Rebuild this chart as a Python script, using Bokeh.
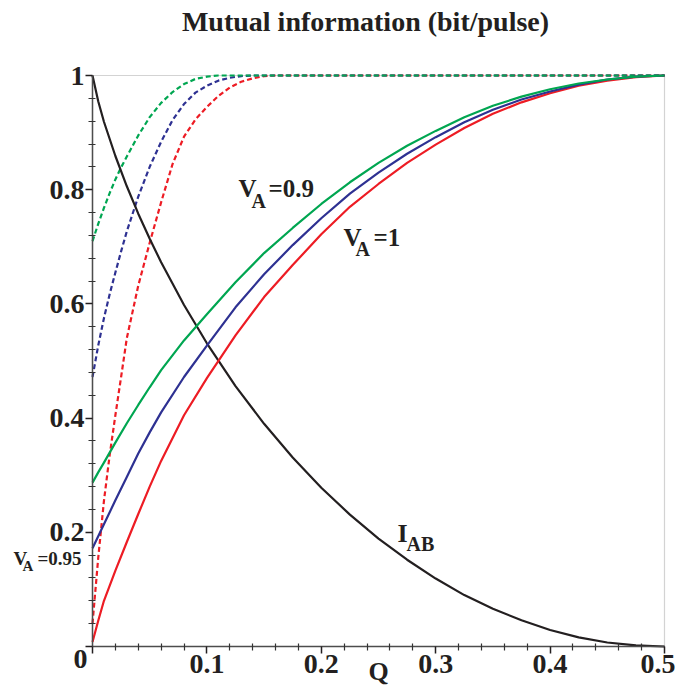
from bokeh.plotting import figure
from bokeh.models import Range1d, Label, FixedTicker, BoxAnnotation
from bokeh.embed import file_html
from bokeh.resources import INLINE

# ---------------- data ----------------
q_solid = [0, 0.005, 0.01, 0.02, 0.03, 0.04, 0.05, 0.06, 0.08, 0.1, 0.125, 0.15, 0.175,
           0.2, 0.225, 0.25, 0.275, 0.3, 0.325, 0.35, 0.375, 0.4, 0.425, 0.45, 0.475, 0.5]
i_ab = [1.0, 0.955, 0.919, 0.859, 0.806, 0.758, 0.714, 0.673, 0.598, 0.531, 0.456, 0.390, 0.331,
        0.278, 0.231, 0.189, 0.152, 0.119, 0.090, 0.066, 0.046, 0.029, 0.016, 0.007, 0.002, 0.0]
red_solid = [0.008, 0.045, 0.080, 0.133, 0.183, 0.232, 0.280, 0.325, 0.405, 0.470, 0.545, 0.612, 0.668,
             0.722, 0.770, 0.810, 0.847, 0.879, 0.908, 0.933, 0.953, 0.969, 0.982, 0.991, 0.997, 1.0]
blue_solid = [0.172, 0.193, 0.214, 0.256, 0.297, 0.338, 0.375, 0.410, 0.472, 0.527, 0.594, 0.652, 0.703,
              0.750, 0.793, 0.830, 0.863, 0.892, 0.918, 0.940, 0.958, 0.972, 0.984, 0.993, 0.998, 1.0]
green_solid = [0.287, 0.305, 0.322, 0.357, 0.391, 0.423, 0.454, 0.484, 0.536, 0.582, 0.638, 0.689, 0.733,
               0.775, 0.813, 0.847, 0.877, 0.903, 0.927, 0.947, 0.963, 0.976, 0.986, 0.993, 0.998, 1.0]

q_dash = [0, 0.005, 0.01, 0.015, 0.02, 0.025, 0.03, 0.04, 0.05, 0.06, 0.07, 0.08, 0.09, 0.1,
          0.11, 0.12, 0.13, 0.14, 0.15, 0.16, 0.2, 0.3, 0.4, 0.5]
red_dash = [0.040, 0.155, 0.255, 0.335, 0.405, 0.472, 0.540, 0.632, 0.707, 0.778, 0.845, 0.893, 0.923, 0.945,
            0.964, 0.979, 0.989, 0.995, 0.999, 1.0, 1.0, 1.0, 1.0, 1.0]
blue_dash = [0.472, 0.527, 0.575, 0.617, 0.655, 0.692, 0.727, 0.788, 0.840, 0.884, 0.922, 0.950, 0.970, 0.982,
             0.991, 0.996, 0.999, 1.0, 1.0, 1.0, 1.0, 1.0, 1.0, 1.0]
green_dash = [0.710, 0.740, 0.768, 0.794, 0.818, 0.839, 0.858, 0.895, 0.927, 0.952, 0.971, 0.985, 0.994, 0.998,
              1.0, 1.0, 1.0, 1.0, 1.0, 1.0, 1.0, 1.0, 1.0, 1.0]

x_ticks = [0, 0.1, 0.2, 0.3, 0.4, 0.5]
x_tick_labels = ["", "0.1", "0.2", "0.3", "0.4", "0.5"]
x_minor = [0.02, 0.04, 0.06, 0.08, 0.12, 0.14, 0.16, 0.18, 0.22, 0.24, 0.26, 0.28,
           0.32, 0.34, 0.36, 0.38, 0.42, 0.44, 0.46, 0.48]
y_ticks = [0, 0.2, 0.4, 0.6, 0.8, 1]
y_tick_labels = ["", "0.2", "0.4", "0.6", "0.8", "1"]
y_minor = [0.04, 0.08, 0.12, 0.16, 0.24, 0.28, 0.32, 0.36, 0.44, 0.48, 0.52, 0.56,
           0.64, 0.68, 0.72, 0.76, 0.84, 0.88, 0.92, 0.96]

# ---------------- styling ----------------
FONT = "Liberation Serif"
GREEN = "#00a651"
BLUE = "#2e3192"
RED = "#ed1c24"
BLACK = "#231f20"

W, H = 675, 687
# pixel position of the plotted area (Q: 0..0.5, value: 0..1)
PX_LEFT, PX_RIGHT, PX_TOP, PX_BOTTOM = 92, 664, 75, 646
SX = (PX_RIGHT - PX_LEFT) / 0.5
SY = (PX_BOTTOM - PX_TOP) / 1.0

p = figure(width=W, height=H,
           x_range=Range1d(-PX_LEFT / SX, (W - PX_LEFT) / SX),
           y_range=Range1d(-(H - PX_BOTTOM) / SY, PX_BOTTOM / SY),
           output_backend="svg", toolbar_location=None,
           min_border_left=0, min_border_right=0, min_border_top=0, min_border_bottom=0)
p.title.text = ""
p.grid.visible = False
p.outline_line_color = None
p.background_fill_color = "white"
p.border_fill_color = "white"

# plot box (top / right edges)
p.add_layout(BoxAnnotation(left=0, right=0.5, bottom=0, top=1, fill_color=None,
                           line_color="#6d6d6d", line_width=1.2, level="underlay"))

for ax, ticks, labels, minor, bounds in ((p.xaxis[0], x_ticks, x_tick_labels, x_minor, (0, 0.5)),
                                         (p.yaxis[0], y_ticks, y_tick_labels, y_minor, (0, 1))):
    ax.fixed_location = 0
    ax.bounds = bounds
    ax.ticker = FixedTicker(ticks=ticks, minor_ticks=minor)
    ax.major_label_overrides = {t: l for t, l in zip(ticks, labels)}
    ax.axis_line_color = "#4d4d4d"
    ax.axis_line_width = 1.5
    ax.major_tick_line_color = BLACK
    ax.minor_tick_line_color = "#333333"
    ax.major_tick_line_width = 1.5
    ax.minor_tick_line_width = 1.2
    ax.major_tick_out = 7
    ax.major_tick_in = 0
    ax.minor_tick_out = 4
    ax.minor_tick_in = 3
    ax.major_label_text_font = FONT
    ax.major_label_text_font_style = "bold"
    ax.major_label_text_font_size = "28px"
    ax.major_label_text_color = BLACK
    ax.major_label_standoff = 1

# curves
p.line(q_dash, red_dash, line_color=RED, line_width=2.2, line_dash="5 3")
p.line(q_dash, blue_dash, line_color=BLUE, line_width=2.2, line_dash="5 3")
p.line(q_dash, green_dash, line_color=GREEN, line_width=2.2, line_dash="5 3")
p.line(q_solid, i_ab, line_color=BLACK, line_width=2.2)
p.line(q_solid, red_solid, line_color=RED, line_width=2.2)
p.line(q_solid, blue_solid, line_color=BLUE, line_width=2.2)
p.line(q_solid, green_solid, line_color=GREEN, line_width=2.2)

BASELINE_SHIFT = 10  # Label baselines come out lower than asked


def lab(px, py, text, size, align="left"):
    # px, py: pixel position of the text anchor (baseline)
    py = py - BASELINE_SHIFT
    p.add_layout(Label(x=(px - PX_LEFT) / SX, y=(PX_BOTTOM - py) / SY, text=text,
                       text_font=FONT, text_font_style="bold",
                       text_font_size=size, text_color=BLACK, text_align=align,
                       text_baseline="alphabetic"))


# title, axis label, origin label
lab(365, 31, "Mutual information (bit/pulse)", "28px", "center")
lab(378, 681, "Q", "26px", "center")
lab(80, 668, "0", "28px", "center")
# V_A = 0.95 (left of axis)
lab(13, 568, "V", "19px")
lab(22, 575, "A", "15px")
lab(37, 568, "=0.95", "19px")
# V_A = 0.9
lab(238, 198, "V", "25px")
lab(251, 210, "A", "20px")
lab(268, 198, "=0.9", "25px")
# V_A = 1
lab(343, 247, "V", "25px")
lab(355, 258, "A", "20px")
lab(373, 247, "=1", "25px")
# I_AB
lab(397, 543, "I", "26px")
lab(406, 553, "AB", "20px")

open("out.html", "w").write(file_html(p, INLINE))
